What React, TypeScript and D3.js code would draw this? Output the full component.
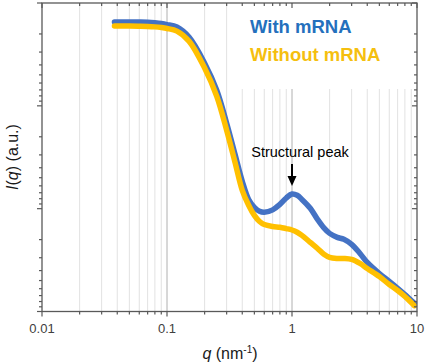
import React from "react";
import * as d3 from "d3";

const qValues = [0.038, 0.05, 0.06, 0.07, 0.08, 0.09, 0.1, 0.12, 0.15, 0.2, 0.25, 0.3, 0.35, 0.4, 0.45, 0.5, 0.55, 0.6, 0.7, 0.8, 0.9, 1.0, 1.1, 1.2, 1.4, 1.6, 1.8, 2.0, 2.3, 2.6, 3.0, 3.5, 4, 5, 6, 7, 8, 9, 9.5];
const withMRNA = [653, 653, 652, 649, 641, 631, 617, 584, 466, 260, 142, 67.8, 33.8, 18.5, 12.3, 10.3, 9.42, 9.21, 9.74, 11.0, 12.7, 13.9, 13.5, 12.3, 10.1, 7.87, 6.5, 5.75, 5.26, 5.03, 4.49, 3.67, 3.0, 2.34, 1.96, 1.68, 1.46, 1.28, 1.21];
const withoutMRNA = [597, 597, 595, 592, 586, 577, 565, 533, 426, 233, 124, 58, 28.3, 15.1, 10.8, 8.6, 7.5, 7.0, 6.7, 6.6, 6.4, 6.2, 5.9, 5.5, 4.7, 4.1, 3.6, 3.36, 3.28, 3.28, 3.21, 2.93, 2.62, 2.19, 1.83, 1.6, 1.4, 1.22, 1.14];
const xTickLabels = ["0.01", "0.1", "1", "10"];
const seriesNames = ["With mRNA", "Without mRNA"];
const peakQ = 1;
const peakLabel = "Structural peak";

const W = 430, H = 363;
const L = 42, R = 417, T = 3, B = 311.5;
const BLUE = "#4472C4", GOLD = "#FFC000";
const AXIS = "#595959";
const FONT = "'Liberation Sans', Arial, sans-serif";

export default function App() {
  const x = d3.scaleLog().domain([0.01, 10]).range([L, R]);
  const y = d3.scaleLog().domain([1, 1000]).range([B, T]);

  const xTicks: { v: number; major: boolean }[] = [];
  for (let k = -2; k <= 0; k++) {
    for (let m = 1; m <= 9; m++) xTicks.push({ v: m * Math.pow(10, k), major: m === 1 });
  }
  xTicks.push({ v: 10, major: true });

  const yTicks: { v: number; major: boolean }[] = [{ v: 1, major: true }];
  for (let k = 0; k <= 2; k++) {
    for (let m = 1; m <= 9; m++) yTicks.push({ v: Math.pow(10, k + 1) / m, major: m === 1 });
  }

  const line = d3
    .line<number>()
    .x((_, i) => x(qValues[i]))
    .y((d) => y(d))
    .curve(d3.curveCatmullRom.alpha(0.5));

  const px = x(peakQ);

  return (
    <svg width={W} height={H} style={{ position: "absolute", left: 0, top: 0, background: "#fff" }}>
      <rect width={W} height={H} fill="#fff" />
      {xTicks
        .filter((t) => t.v > 0.01 && t.v < 10)
        .map((t, i) => (
          <line
            key={"g" + i}
            x1={x(t.v)}
            x2={x(t.v)}
            y1={T}
            y2={B}
            stroke={t.major ? "#b0b0b0" : "#e2e2e2"}
            strokeWidth={1}
          />
        ))}
      <rect x={231} y={T + 1} width={R - 231 - 3} height={85} fill="#fff" />
      <path d={line(withMRNA) || ""} fill="none" stroke={BLUE} strokeWidth={5.5} strokeLinecap="round" />
      <path d={line(withoutMRNA) || ""} fill="none" stroke={GOLD} strokeWidth={5.5} strokeLinecap="round" />
      <rect x={L} y={T} width={R - L} height={B - T} fill="none" stroke={AXIS} strokeWidth={1.3} />
      {xTicks.map((t, i) => (
        <g key={"xt" + i}>
          <line x1={x(t.v)} x2={x(t.v)} y1={B} y2={B + (t.major ? 5 : 3)} stroke={AXIS} strokeWidth={1.2} />
          <line x1={x(t.v)} x2={x(t.v)} y1={T} y2={T + (t.major ? 5 : 3)} stroke={AXIS} strokeWidth={1.2} />
        </g>
      ))}
      {yTicks.map((t, i) => (
        <g key={"yt" + i}>
          <line x1={L - (t.major ? 5 : 3)} x2={L} y1={y(t.v)} y2={y(t.v)} stroke={AXIS} strokeWidth={1.2} />
          <line x1={R - (t.major ? 5 : 3)} x2={R} y1={y(t.v)} y2={y(t.v)} stroke={AXIS} strokeWidth={1.2} />
        </g>
      ))}
      {xTickLabels.map((s) => (
        <text key={s} x={x(+s)} y={333} textAnchor="middle" fontFamily={FONT} fontSize={13} fill="#404040">
          {s}
        </text>
      ))}
      <text x={230} y={359} textAnchor="middle" fontFamily={FONT} fontSize={16} fill="#1a1a1a">
        <tspan fontStyle="italic">q</tspan>
        <tspan> (nm</tspan>
        <tspan fontSize={10} dy={-6}>-1</tspan>
        <tspan dy={6}>)</tspan>
      </text>
      <text
        transform={`translate(18,157) rotate(-90)`}
        textAnchor="middle"
        fontFamily={FONT}
        fontSize={16}
        fill="#1a1a1a"
      >
        <tspan fontStyle="italic">I</tspan>
        <tspan>(</tspan>
        <tspan fontStyle="italic">q</tspan>
        <tspan>) (a.u.)</tspan>
      </text>
      <text x={250} y={33} fontFamily={FONT} fontSize={18.5} fontWeight="bold" fill="#2470BD">
        {seriesNames[0]}
      </text>
      <text x={250} y={61} fontFamily={FONT} fontSize={18.5} fontWeight="bold" fill="#F5BF0F">
        {seriesNames[1]}
      </text>
      <text x={300} y={157} textAnchor="middle" fontFamily={FONT} fontSize={14.5} fill="#000">
        {peakLabel}
      </text>
      <line x1={px} x2={px} y1={164} y2={178} stroke="#000" strokeWidth={2} />
      <polygon points={`${px - 4.5},${176} ${px + 4.5},${176} ${px},${186}`} fill="#000" />
    </svg>
  );
}
